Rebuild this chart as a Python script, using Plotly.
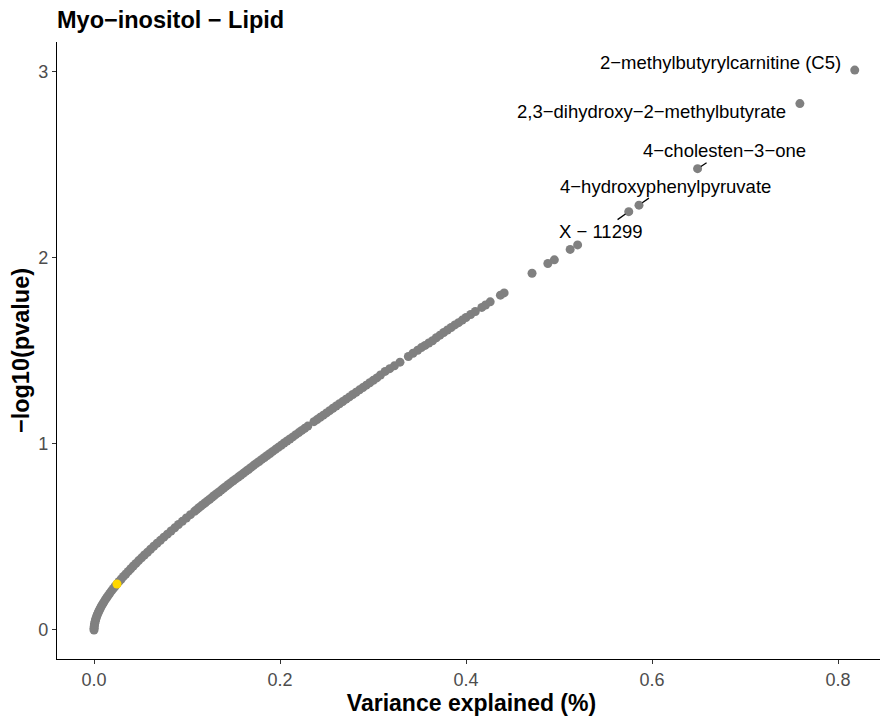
import plotly.graph_objects as go

# variance explained (%) and -log10(pvalue)
var_explained = [
    0.0000, 0.00005, 0.0002, 0.0004, 0.0008, 0.0012, 0.0017, 0.0023, 0.0030, 0.0038,
    0.0047, 0.0057, 0.0068, 0.0079, 0.0092, 0.0106, 0.0120, 0.0136, 0.0152, 0.0169,
    0.0188, 0.0207, 0.0227, 0.0248, 0.0270, 0.0293, 0.0317, 0.0342, 0.0368, 0.0395,
    0.0422, 0.0451, 0.0480, 0.0511, 0.0542, 0.0575, 0.0608, 0.0642, 0.0678, 0.0714,
    0.0751, 0.0789, 0.0828, 0.0868, 0.0908, 0.0950, 0.0993, 0.1037, 0.1081, 0.1104,
    0.1127, 0.1150, 0.1173, 0.1196, 0.1220, 0.1244, 0.1269, 0.1293, 0.1318, 0.1343,
    0.1368, 0.1393, 0.1419, 0.1445, 0.1471, 0.1498, 0.1525, 0.1551, 0.1578, 0.1605,
    0.1633, 0.1661, 0.1689, 0.1717, 0.1746, 0.1775, 0.1804, 0.1833, 0.1862, 0.1892,
    0.1922, 0.1952, 0.1982, 0.2013, 0.2044, 0.2075, 0.2106, 0.2138, 0.2170, 0.2202,
    0.2234, 0.2266, 0.2299, 0.2365, 0.2398, 0.2432, 0.2466, 0.2500, 0.2534, 0.2569,
    0.2604, 0.2639, 0.2674, 0.2710, 0.2746, 0.2782, 0.2818, 0.2855, 0.2891, 0.2928,
    0.2965, 0.3003, 0.3041, 0.308, 0.313, 0.318, 0.323, 0.329, 0.338, 0.343,
    0.348, 0.352, 0.356, 0.360, 0.364, 0.368, 0.372, 0.376, 0.380, 0.384,
    0.388, 0.392, 0.396, 0.400, 0.405, 0.410, 0.417, 0.421, 0.426, 0.437,
    0.441, 0.471, 0.488, 0.495, 0.512, 0.520, 0.575, 0.586, 0.649, 0.759,
    0.818,
]
neg_log10_p = [
    0.000, 0.009, 0.018, 0.027, 0.036, 0.046, 0.055, 0.065, 0.075, 0.085,
    0.096, 0.106, 0.117, 0.128, 0.139, 0.150, 0.162, 0.173, 0.185, 0.197,
    0.210, 0.222, 0.235, 0.248, 0.261, 0.274, 0.288, 0.301, 0.315, 0.329,
    0.344, 0.358, 0.373, 0.388, 0.403, 0.418, 0.434, 0.450, 0.466, 0.482,
    0.499, 0.515, 0.532, 0.549, 0.567, 0.584, 0.602, 0.620, 0.638, 0.647,
    0.657, 0.666, 0.675, 0.684, 0.694, 0.703, 0.713, 0.723, 0.733, 0.742,
    0.752, 0.762, 0.772, 0.782, 0.792, 0.802, 0.812, 0.822, 0.832, 0.842,
    0.853, 0.863, 0.874, 0.885, 0.896, 0.906, 0.917, 0.927, 0.938, 0.949,
    0.960, 0.971, 0.982, 0.993, 1.005, 1.016, 1.027, 1.038, 1.050, 1.061,
    1.073, 1.084, 1.096, 1.120, 1.131, 1.143, 1.155, 1.167, 1.179, 1.192,
    1.204, 1.216, 1.228, 1.241, 1.253, 1.266, 1.278, 1.291, 1.303, 1.316,
    1.329, 1.342, 1.355, 1.371, 1.390, 1.405, 1.420, 1.440, 1.470, 1.488,
    1.504, 1.518, 1.530, 1.543, 1.555, 1.571, 1.585, 1.599, 1.613, 1.626,
    1.640, 1.652, 1.666, 1.680, 1.696, 1.712, 1.734, 1.747, 1.764, 1.800,
    1.812, 1.918, 1.970, 1.990, 2.046, 2.070, 2.249, 2.284, 2.480, 2.830,
    3.010,
]

# highlighted metabolite (myo-inositol)
highlight_x = [0.0247]
highlight_y = [0.247]

label_names = [
    "2−methylbutyrylcarnitine (C5)",
    "2,3−dihydroxy−2−methylbutyrate",
    "4−cholesten−3−one",
    "4−hydroxyphenylpyruvate",
    "X − 11299",
]
label_x = [0.818, 0.759, 0.649, 0.586, 0.575]
label_y = [3.010, 2.830, 2.480, 2.284, 2.249]
label_dx = [-134, -148, 27, 27, -28]
label_dy = [-8, 8, -18, -19, 20]
label_line = [False, False, True, True, True]

x_ticks = [0.0, 0.2, 0.4, 0.6, 0.8]
y_ticks = [0, 1, 2, 3]

FONT = "Liberation Sans, Arial, sans-serif"

# page body has an 8px margin, so the figure is 8px smaller than the window
W, H = 880, 708

fig = go.Figure()
fig.add_trace(
    go.Scatter(
        x=var_explained,
        y=neg_log10_p,
        mode="markers",
        marker=dict(color="#808080", size=9, line=dict(width=0)),
        hoverinfo="x+y",
    )
)
fig.add_trace(
    go.Scatter(
        x=highlight_x,
        y=highlight_y,
        mode="markers",
        marker=dict(color="#FFD700", size=9, line=dict(width=0)),
    )
)

for name, x, y, dx, dy, line in zip(label_names, label_x, label_y, label_dx, label_dy, label_line):
    fig.add_annotation(
        x=x,
        y=y,
        text=name,
        showarrow=True,
        ax=dx,
        ay=dy,
        arrowhead=0,
        arrowwidth=1.3,
        arrowcolor="black" if line else "rgba(0,0,0,0)",
        standoff=4,
        font=dict(family=FONT, size=18.5, color="black"),
    )

fig.update_layout(
    width=W,
    height=H,
    margin=dict(l=49, r=2, t=34, b=57),
    paper_bgcolor="white",
    plot_bgcolor="white",
    showlegend=False,
    font=dict(family=FONT),
    title=dict(
        text="<b>Myo−inositol − Lipid</b>",
        xref="paper",
        x=0,
        xanchor="left",
        y=1,
        yanchor="top",
        pad=dict(t=4),
        font=dict(family=FONT, size=23.5, color="black"),
    ),
    xaxis=dict(
        range=[-0.0398, 0.8516],
        tickvals=x_ticks,
        ticktext=[f"{v:.1f}" for v in x_ticks],
        showgrid=False,
        zeroline=False,
        showline=True,
        linecolor="black",
        linewidth=1.2,
        ticks="outside",
        ticklen=4,
        tickwidth=1.1,
        tickcolor="#333333",
        tickfont=dict(family=FONT, size=18, color="#4D4D4D"),
        automargin=False,
        title=dict(
            text="<b>Variance explained (%)</b>",
            font=dict(family=FONT, size=23, color="black"),
            standoff=2,
        ),
    ),
    yaxis=dict(
        range=[-0.156, 3.161],
        tickvals=y_ticks,
        ticktext=[str(v) for v in y_ticks],
        showgrid=False,
        zeroline=False,
        showline=True,
        linecolor="black",
        linewidth=1.2,
        ticks="outside",
        ticklen=4,
        tickwidth=1.1,
        tickcolor="#333333",
        tickfont=dict(family=FONT, size=18, color="#4D4D4D"),
        automargin=False,
        title=dict(
            text="<b>−log10(pvalue)</b>",
            font=dict(family=FONT, size=23.5, color="black"),
            standoff=3,
        ),
    ),
)

fig.write_html("out.html")
